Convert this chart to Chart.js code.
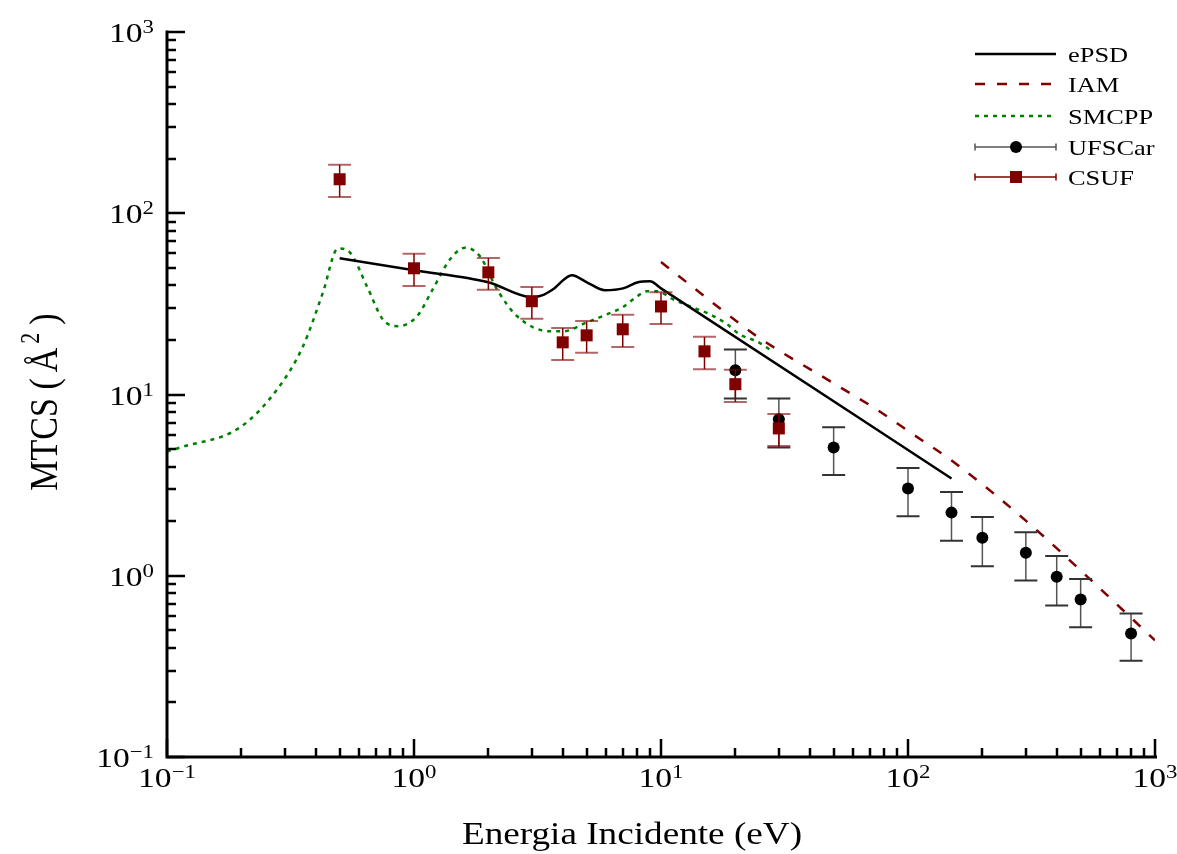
<!DOCTYPE html>
<html>
<head>
<meta charset="utf-8">
<script src="https://cdn.jsdelivr.net/npm/chart.js@4.4.1/dist/chart.umd.min.js"></script>
<style>
  html, body { margin: 0; padding: 0; background: #fff; }
  canvas { display: block; }
</style>
</head>
<body>
<canvas id="mtcs-chart" width="1177" height="854"></canvas>
<script>
// ePSD (solid black)
const epsdE = [0.5, 1, 2, 3, 3.3, 3.65, 4.36, 5.01, 5.93, 7.02, 8.07, 9.02, 10, 150];
const epsdY = [56.4, 48.5, 41.6, 34.4, 35.2, 38.0, 45.5, 41.6, 37.6, 38.5, 41.6, 42.1, 38.5, 3.44];

// IAM (dashed dark red)
const iamE = [10, 17.3, 20.6, 24.5, 51.5, 74.7, 100, 154, 303, 588, 1000];
const iamY = [53.8, 29.9, 24.9, 20.9, 11.25, 8.26, 6.3, 4.21, 1.99, 0.87, 0.44];

// SMCPP (dotted green)
const smcppE = [0.1, 0.113, 0.197, 0.279, 0.355, 0.428, 0.492, 0.551, 0.645, 0.749, 0.861, 1.028, 1.19, 1.40, 1.61,
                1.85, 2.17, 2.61, 3.55, 4.01, 5.01, 6.04, 7.0, 8.0, 8.78, 9.6, 11.2, 13.1, 15.8, 18.5, 20.9, 24.5, 27.6];
const smcppY = [4.84, 5.10, 6.57, 10.66, 18.4, 36.6, 64.0, 60.6, 39.5, 25.9, 23.8, 27.0, 38.0, 55.7, 64.6,
                57.8, 38.0, 27.1, 22.3, 22.3, 25.0, 27.7, 30.3, 34.8, 37.1, 37.1, 33.5, 30.6, 27.7, 24.4, 21.4, 19.6, 17.7];

// UFSCar (black circles, error bars)
const ufscarE = [20, 30, 50, 100, 150, 200, 300, 400, 500, 800];
const ufscarY = [13.6, 7.3, 5.1, 3.03, 2.23, 1.62, 1.34, 0.986, 0.74, 0.48];
const ufscarErr = [4.1, 2.2, 1.5, 0.9, 0.67, 0.49, 0.40, 0.30, 0.22, 0.14];

// CSUF (dark red squares, error bars)
const csufE = [0.5, 1, 2, 3, 4, 5, 7, 10, 15, 20, 30];
const csufY = [154, 49.7, 47.2, 32.7, 19.4, 21.2, 22.9, 30.6, 17.3, 11.4, 6.5];
const csufErr = [31, 10, 9.4, 6.5, 3.9, 4.2, 4.6, 6.1, 3.5, 2.3, 1.3];

// decade tick exponents
const xTickExp = [-1, 0, 1, 2, 3];
const yTickExp = [-1, 0, 1, 2, 3];

const SERIF = '"Liberation Serif", "Times New Roman", serif';
const STRETCH = 1.2; // glyphs in the figure are wider than tall

function pts(xs, ys) {
  return xs.map((x, i) => ({ x: x, y: ys[i] }));
}

function powLabel(ctx, exp, x, y, align) {
  const base = '10';
  const sup = exp < 0 ? '\u2212' + (-exp) : String(exp);
  ctx.font = '28px ' + SERIF;
  const wb = ctx.measureText(base).width * STRETCH;
  ctx.font = '19px ' + SERIF;
  const ws = ctx.measureText(sup).width * STRETCH;
  const x0 = align === 'center' ? x - (wb + ws) / 2 : x - wb - ws;
  ctx.save();
  ctx.translate(x0, y);
  ctx.scale(STRETCH, 1);
  ctx.textAlign = 'left';
  ctx.textBaseline = 'alphabetic';
  ctx.font = '28px ' + SERIF;
  ctx.fillText(base, 0, 0);
  ctx.font = '19px ' + SERIF;
  ctx.fillText(sup, wb / STRETCH, -9);
  ctx.restore();
}

function stretchedText(ctx, text, x, y, font, align) {
  ctx.save();
  ctx.translate(x, y);
  ctx.scale(STRETCH, 1);
  ctx.font = font;
  ctx.textAlign = align;
  ctx.textBaseline = 'alphabetic';
  ctx.fillStyle = '#000';
  ctx.fillText(text, 0, 0);
  ctx.restore();
}

// vertical title: MTCS ( Å^2 ), drawn in pieces so the superscript sits up
function yTitle(ctx, x, yc) {
  const big = '34px ' + SERIF, small = '22px ' + SERIF;
  const parts = [
    { t: 'MTCS (', f: big, rise: 0, gap: 6 },
    { t: '\u00C5', f: big, rise: 0, gap: 4 },
    { t: '2', f: small, rise: 15, gap: 8 },
    { t: ')', f: big, rise: 0, gap: 0 }
  ];
  let total = 0;
  parts.forEach(p => { ctx.font = p.f; p.w = ctx.measureText(p.t).width; total += p.w + p.gap; });
  ctx.save();
  ctx.translate(x, yc);
  ctx.scale(STRETCH, 1);
  ctx.rotate(-Math.PI / 2);
  ctx.textAlign = 'left';
  ctx.textBaseline = 'alphabetic';
  ctx.fillStyle = '#000';
  let u = -total / 2;
  parts.forEach(p => {
    ctx.font = p.f;
    ctx.fillText(p.t, u, -p.rise);
    u += p.w + p.gap;
  });
  ctx.restore();
}

const paperAxes = {
  id: 'paperAxes',
  beforeDatasetDraw(chart, args) {
    const ds = chart.data.datasets[args.index];
    if (!ds.errors) return;
    const ctx = chart.ctx;
    const xs = chart.scales.x, ys = chart.scales.y;
    ctx.save();
    ds.data.forEach((p, i) => {
      const px = xs.getPixelForValue(p.x);
      const top = ys.getPixelForValue(p.y + ds.errors[i]);
      const bot = ys.getPixelForValue(p.y - ds.errors[i]);
      ctx.strokeStyle = ds.barColor;
      ctx.lineWidth = 1.5;
      ctx.beginPath();
      ctx.moveTo(px, top);
      ctx.lineTo(px, bot);
      ctx.stroke();
      ctx.strokeStyle = ds.capColor;
      ctx.lineWidth = 2;
      ctx.beginPath();
      ctx.moveTo(px - 11.5, top);
      ctx.lineTo(px + 11.5, top);
      ctx.moveTo(px - 11.5, bot);
      ctx.lineTo(px + 11.5, bot);
      ctx.stroke();
    });
    ctx.restore();
  },
  afterDraw(chart) {
    const ctx = chart.ctx;
    const area = chart.chartArea;
    const xs = chart.scales.x, ys = chart.scales.y;
    ctx.save();
    ctx.strokeStyle = '#000';
    ctx.fillStyle = '#000';
    ctx.lineCap = 'butt';

    // axis lines
    ctx.lineWidth = 3;
    ctx.beginPath();
    ctx.moveTo(area.left, area.top - 1.5);
    ctx.lineTo(area.left, area.bottom);
    ctx.lineTo(area.right + 2, area.bottom);
    ctx.stroke();

    // ticks, pointing inwards
    ctx.lineWidth = 2.5;
    ctx.beginPath();
    for (let d = -1; d <= 3; d++) {
      for (let k = 1; k <= 9; k++) {
        if (d === 3 && k > 1) break;
        const v = k * Math.pow(10, d);
        const len = k === 1 ? 18 : 9;
        const px = Math.round(xs.getPixelForValue(v));
        ctx.moveTo(px, area.bottom);
        ctx.lineTo(px, area.bottom - len);
        const py = Math.round(ys.getPixelForValue(v));
        ctx.moveTo(area.left, py);
        ctx.lineTo(area.left + len, py);
      }
    }
    ctx.stroke();

    // tick labels
    xTickExp.forEach(e => powLabel(ctx, e, xs.getPixelForValue(Math.pow(10, e)), area.bottom + 30, 'center'));
    yTickExp.forEach(e => powLabel(ctx, e, area.left - 13, ys.getPixelForValue(Math.pow(10, e)) + 10, 'right'));

    // axis titles
    stretchedText(ctx, 'Energia Incidente (eV)', 632, 844, '31px ' + SERIF, 'center');
    yTitle(ctx, 57, 402);

    // legend
    const lx0 = 975, lx1 = 1056, mx = 1016, tx = 1068;
    const rows = [54, 84, 116, 147, 177];
    const names = ['ePSD', 'IAM', 'SMCPP', 'UFSCar', 'CSUF'];
    const dsByName = {};
    chart.data.datasets.forEach(ds => { dsByName[ds.label] = ds; });
    names.forEach((name, i) => {
      const ds = dsByName[name];
      const y = rows[i];
      ctx.save();
      if (ds.errors) {
        ctx.strokeStyle = ds.barColor;
        ctx.lineWidth = 1.5;
        ctx.beginPath();
        ctx.moveTo(lx0, y);
        ctx.lineTo(lx1, y);
        ctx.moveTo(lx0, y - 3.5);
        ctx.lineTo(lx0, y + 3.5);
        ctx.moveTo(lx1, y - 3.5);
        ctx.lineTo(lx1, y + 3.5);
        ctx.stroke();
        ctx.fillStyle = ds.backgroundColor;
        ctx.beginPath();
        if (ds.pointStyle === 'rect') {
          ctx.rect(mx - 6, y - 6, 12, 12);
        } else {
          ctx.arc(mx, y, 6, 0, Math.PI * 2);
        }
        ctx.fill();
      } else {
        ctx.strokeStyle = ds.borderColor;
        ctx.lineWidth = ds.borderWidth;
        ctx.setLineDash(ds.borderDash || []);
        ctx.beginPath();
        ctx.moveTo(lx0, y);
        ctx.lineTo(lx1, y);
        ctx.stroke();
      }
      ctx.restore();
      stretchedText(ctx, name, tx, y + 7.5, '22px ' + SERIF, 'left');
    });

    ctx.restore();
  }
};

const ctx = document.getElementById('mtcs-chart').getContext('2d');

new Chart(ctx, {
  type: 'scatter',
  data: {
    datasets: [
      {
        label: 'ePSD',
        data: pts(epsdE, epsdY),
        showLine: true,
        borderColor: '#000000',
        borderWidth: 2.5,
        pointRadius: 0,
        cubicInterpolationMode: 'monotone',
        order: 2
      },
      {
        label: 'IAM',
        data: pts(iamE, iamY),
        showLine: true,
        borderColor: '#800000',
        borderWidth: 2.5,
        borderDash: [10, 12],
        pointRadius: 0,
        cubicInterpolationMode: 'monotone',
        order: 3
      },
      {
        label: 'SMCPP',
        data: pts(smcppE, smcppY),
        showLine: true,
        borderColor: '#008000',
        borderWidth: 2.5,
        borderDash: [4, 5],
        pointRadius: 0,
        cubicInterpolationMode: 'monotone',
        order: 4
      },
      {
        label: 'UFSCar',
        data: pts(ufscarE, ufscarY),
        errors: ufscarErr,
        barColor: '#555555',
        capColor: '#333333',
        pointStyle: 'circle',
        pointRadius: 6,
        backgroundColor: '#000000',
        borderWidth: 0,
        order: 1
      },
      {
        label: 'CSUF',
        data: pts(csufE, csufY),
        errors: csufErr,
        barColor: '#800000',
        capColor: 'rgba(128,0,0,0.6)',
        pointStyle: 'rect',
        pointRadius: 8.5,
        backgroundColor: '#800000',
        borderWidth: 0,
        order: 0
      }
    ]
  },
  options: {
    responsive: false,
    animation: false,
    layout: {
      padding: { left: 167, right: 22, top: 32, bottom: 97 }
    },
    plugins: {
      legend: { display: false },
      tooltip: { enabled: false }
    },
    scales: {
      x: { type: 'logarithmic', min: 0.1, max: 1000, display: false },
      y: { type: 'logarithmic', min: 0.1, max: 1000, display: false }
    }
  },
  plugins: [paperAxes]
});
</script>
</body>
</html>
